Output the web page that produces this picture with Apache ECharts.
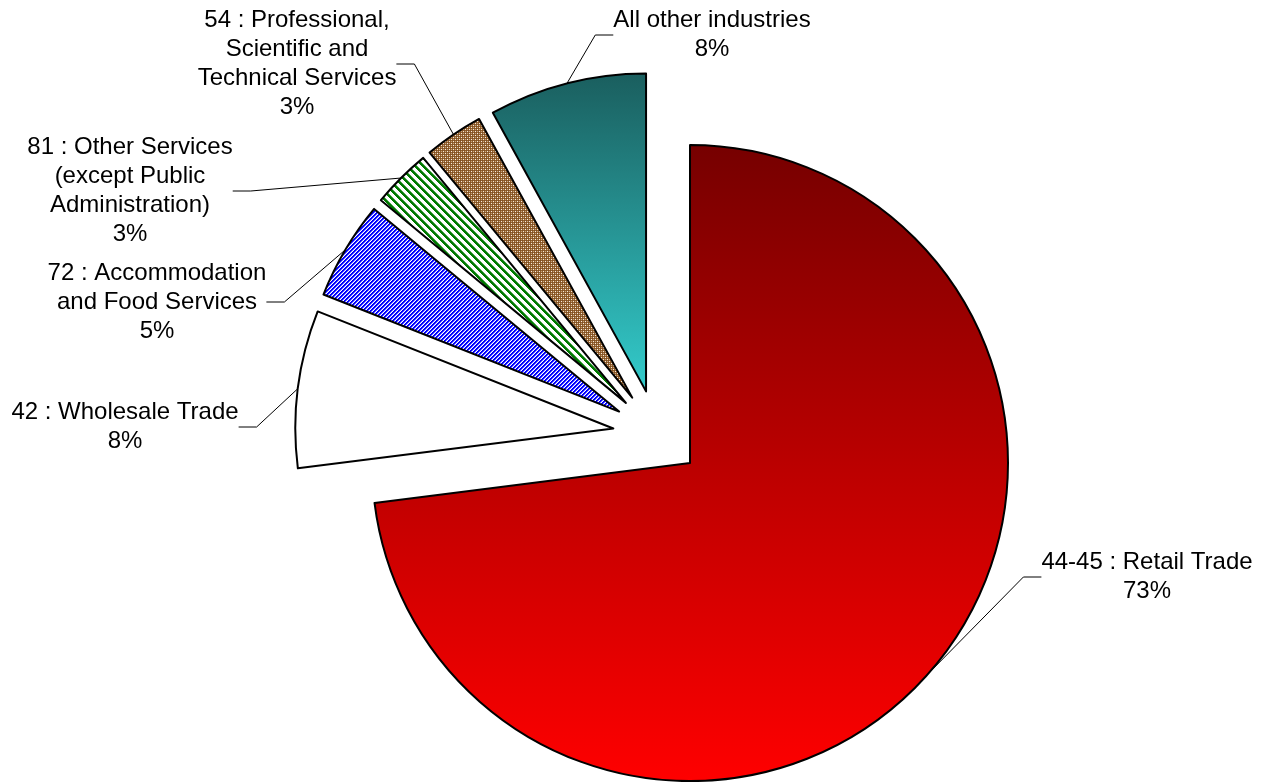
<!DOCTYPE html>
<html>
<head>
<meta charset="utf-8">
<script src="https://cdn.jsdelivr.net/npm/echarts@6/dist/echarts.min.js"></script>
<style>
  html, body { margin: 0; padding: 0; background: #ffffff; }
  #chart { width: 1263px; height: 782px; }
</style>
</head>
<body>
<div id="chart"></div>
<script>
// Employment share by industry (NAICS sector)
const industries = [
  '44-45 : Retail Trade',
  '42 : Wholesale Trade',
  '72 : Accommodation\nand Food Services',
  '81 : Other Services\n(except Public\nAdministration)',
  '54 : Professional,\nScientific and\nTechnical Services',
  'All other industries'
];
const shares = [73, 8, 5, 3, 3, 8];

// Layout: pie centre, radius, how far each slice is pulled out, label block centres
const pieCenter = [657, 434];
const pieRadius = 318;
const explode = 44;
const labelSpots = [[1147, 577], [125, 427], [157, 302], [130, 191], [297, 64], [712, 35]];

// Small repeating tiles used as hatch fills
function makeTile(size, bg, paint) {
  const c = document.createElement('canvas');
  c.width = size; c.height = size;
  const ctx = c.getContext('2d');
  ctx.fillStyle = bg;
  ctx.fillRect(0, 0, size, size);
  for (let y = 0; y < size; y++) {
    for (let x = 0; x < size; x++) {
      const col = paint(x, y);
      if (col) { ctx.fillStyle = col; ctx.fillRect(x, y, 1, 1); }
    }
  }
  return c;
}
const blueHatch = makeTile(4, '#ffffff', (x, y) => {
  const k = (x + y) % 4;
  return k < 2 ? '#0000ff' : (k === 2 ? '#8080ff' : null);
});
const greenStripes = makeTile(8, '#ffffff', (x, y) => {
  const k = (((x - y) % 8) + 8) % 8;
  return k < 3 ? '#007a00' : (k === 3 ? '#5aa85a' : null);
});
const brownWeave = makeTile(4, '#93602e', (x, y) => {
  if (x % 2 === 1 && y % 2 === 1) return ((x + y) % 4 === 2) ? '#f4ece2' : '#c9a77f';
  if (x % 2 === 0 && y % 2 === 0) return '#7f5023';
  return null;
});

const fills = [
  { type: 'linear', x: 0, y: 0, x2: 0, y2: 1, colorStops: [{ offset: 0, color: '#760000' }, { offset: 1, color: '#ff0000' }] },
  '#ffffff',
  { image: blueHatch, repeat: 'repeat' },
  { image: greenStripes, repeat: 'repeat' },
  { image: brownWeave, repeat: 'repeat' },
  { type: 'linear', x: 0, y: 0, x2: 0, y2: 1, colorStops: [{ offset: 0, color: '#1a5e5e' }, { offset: 1, color: '#33cccc' }] }
];

const total = shares.reduce((a, b) => a + b, 0);

// One pie layer per slice: every layer holds the full data so the angles agree,
// but only its own slice is painted, and the layer's centre is pushed out along
// that slice's bisector.
let before = 0;
const layers = industries.map((name, i) => {
  const mid = (before + shares[i] / 2) / total * Math.PI * 2;
  before += shares[i];
  const center = [pieCenter[0] + explode * Math.sin(mid), pieCenter[1] - explode * Math.cos(mid)];
  return {
    type: 'pie',
    center: center,
    radius: pieRadius,
    startAngle: 90,
    clockwise: true,
    avoidLabelOverlap: false,
    percentPrecision: 0,
    emphasis: { disabled: true },
    z: 2,
    label: {
      show: true,
      position: 'outside',
      formatter: '{b}\n{d}%',
      color: '#000000',
      fontFamily: '"Liberation Sans", Arial, sans-serif',
      fontSize: 24,
      lineHeight: 29
    },
    labelLine: {
      show: true,
      length: 20,
      length2: 18,
      smooth: false,
      lineStyle: { color: '#000000', width: 1 }
    },
    labelLayout: function (p) {
      if (p.dataIndex !== i) return {};
      const s = labelSpots[i];
      return { x: s[0], y: s[1], align: 'center', verticalAlign: 'middle' };
    },
    data: industries.map((n, j) => {
      const own = j === i;
      return {
        name: n,
        value: shares[j],
        itemStyle: own
          ? { color: fills[j], borderColor: '#000000', borderWidth: 2 }
          : { color: 'rgba(0,0,0,0)', borderWidth: 0 },
        label: { show: own },
        labelLine: { show: own }
      };
    })
  };
});

const chart = echarts.init(document.getElementById('chart'), null, { renderer: 'canvas' });
chart.setOption({
  animation: false,
  backgroundColor: '#ffffff',
  tooltip: { show: false },
  series: layers
});
</script>
</body>
</html>
